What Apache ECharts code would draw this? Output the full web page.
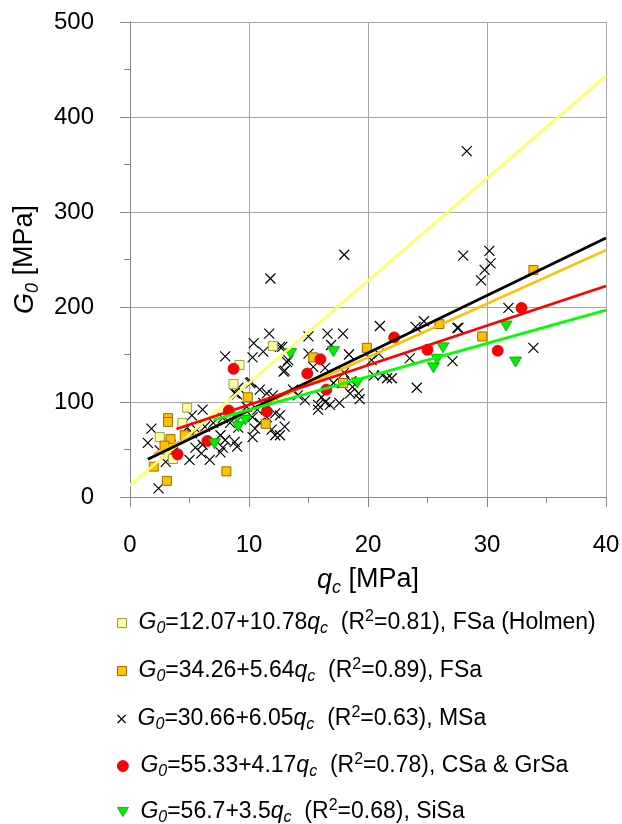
<!DOCTYPE html>
<html><head><meta charset="utf-8">
<script src="https://cdn.jsdelivr.net/npm/echarts@6/dist/echarts.min.js"></script>
<style>html,body{margin:0;padding:0;background:#fff}#c{width:622px;height:824px}</style>
</head><body><div id="c"></div>
<script>
// ---- data ----
const xTicks = [0, 10, 20, 30, 40];
const yTicks = [0, 100, 200, 300, 400, 500];
const seriesNames = ['FSa (Holmen)', 'FSa', 'MSa', 'CSa & GrSa', 'SiSa'];
const intercepts = [12.07, 34.26, 30.66, 55.33, 56.7];
const slopes = [10.78, 5.64, 6.05, 4.17, 3.5];
const rSquared = ['0.81', '0.89', '0.63', '0.78', '0.68'];
const fitStart = [0, 2, 1.5, 3.9, 7];
const fitEnd = [40, 40, 40, 40, 40];

const fsaHolmen = [[2.5,63],[3.0,50],[3.6,40],[4.4,78],[4.8,94],[3.3,57],[8.7,119],[9.2,139],[12.0,159]];
const fsa = [[3.2,83],[3.2,79],[3.4,61],[2.9,54],[4.6,65],[2.0,32],[3.1,17],[8.1,27],[9.9,105],[11.4,77],
  [15.4,147],[17.9,120],[19.9,157],[26.0,182],[29.6,169],[33.9,239]];
const msa = [[28.3,364],[28.0,254],[30.2,259],[30.3,246],[29.8,239],[29.5,228],[31.8,199],[33.9,157],[27.6,178],
  [27.1,143],[24.0,179],[24.7,185],[23.5,146],[21.0,180],[24.1,115],[18.0,255],[11.8,230],
  [15.0,169],[16.6,172],[17.9,172],[16.9,160],[12.6,158],[15.0,151],[18.4,150],[13.0,133],[13.2,142],[15.4,137],
  [16.4,136],[18.0,131],[20.3,144],[20.9,151],[27.5,178],[20.5,128],[21.2,128],[21.6,125],[22.0,125],[18.6,122],
  [18.7,116],[19.2,109],[19.3,103],[18.5,109],[17.1,120],[15.8,92],[15.8,97],[16.4,100],[16.8,97],[17.6,99],
  [16.1,105],[14.7,102],[13.7,113],[14.1,107],[12.6,86],[12.6,65],[13.0,74],
  [11.7,172],[10.4,162],[10.3,147],[11.2,153],[12.8,158],[13.3,144],[12.9,132],[10.2,121],[8.0,148],[9.0,108],
  [1.8,72],[1.5,57],[2.4,9],[3.0,37],[3.6,47],[5.0,39],[5.5,52],[6.0,46],[6.7,39],[5.6,71],[5.2,67],[6.3,74],
  [4.8,73],[6.1,55],[7.6,65],[8.0,60],[7.8,52],[8.8,58],[9.0,53],[10.3,63],[10.5,72],[10.9,78],[11.5,84],
  [10.3,84],[9.8,95],[10.7,92],[11.2,99],[11.9,71],[12.2,65],[8.8,109],[9.1,115],[10.1,120],[10.9,113],
  [11.5,109],[12.0,107],[11.5,94],[12.2,88],[7.0,78],[6.1,92],[5.2,86],[3.4,55],[7.8,83],[8.4,78],[7.6,47],
  [9.1,73],[2.5,49]];
const csaGrsa = [[4.0,45],[6.5,59],[8.3,91],[8.7,135],[11.5,90],[14.9,130],[16.0,145],[16.5,113],[22.2,168],
  [25.0,155],[30.9,154],[32.9,199]];
const sisa = [[7.1,56],[9.0,83],[9.1,74],[9.7,81],[13.5,151],[17.1,153],[19.1,120],[25.5,136],[25.8,145],
  [26.3,157],[31.6,180],[32.4,142]];

// ---- styling ----
const FONT = "'Liberation Sans', Arial, sans-serif";
const pointSets = [fsaHolmen, fsa, msa, csaGrsa, sisa];
const XPATH = 'path://M0,0L10,10M10,0L0,10';
const TRI = 'path://M0,0L12,0L6,10Z';
const marks = [
  {symbol: 'rect', size: 9, color: '#ffff99', border: '#9c9c5a', bw: 1, line: '#ffff66', lg: 9},
  {symbol: 'rect', size: 9, color: '#ffc000', border: '#996f00', bw: 1, line: '#ffc000', lg: 9},
  {symbol: XPATH, size: 10, color: 'transparent', border: '#000', bw: 1.2, line: '#000000', lg: 8},
  {symbol: 'circle', size: 11, color: '#ff0000', border: '#d00000', bw: 0.8, line: '#ff0000', lg: 11},
  {symbol: TRI, size: 12, color: '#00ee00', border: '#00a000', bw: 0.8, line: '#00ff00', lg: 11}
];
const legendTops = [604, 652, 700, 747, 793];

const rich = {
  g: {fontFamily: FONT, fontSize: 23, fontStyle: 'italic', color: '#000', lineHeight: 28},
  s: {fontFamily: FONT, fontSize: 16, fontStyle: 'italic', color: '#000', lineHeight: 13, verticalAlign: 'bottom'},
  t: {fontFamily: FONT, fontSize: 23, color: '#000', lineHeight: 28},
  p: {fontFamily: FONT, fontSize: 16, color: '#000', lineHeight: 12, verticalAlign: 'top'}
};

function legendText(name) {
  const i = seriesNames.indexOf(name);
  return '{g|G}{s|0}{t|=' + intercepts[i] + '+' + slopes[i] + '}{g|q}{s|c}{t|  (R}{p|2}{t|=' + rSquared[i] + '), ' + name + '}';
}

const series = [];
seriesNames.forEach((n, i) => {
  const m = marks[i];
  series.push({
    name: n, type: 'scatter', data: pointSets[i], symbol: m.symbol, symbolSize: m.size, symbolKeepAspect: true,
    itemStyle: {color: m.color, borderColor: m.border, borderWidth: m.bw, opacity: 1},
    z: 2 + (i === 2 ? 0 : 1), silent: true, animation: false
  });
});
seriesNames.forEach((n, i) => {
  const a = intercepts[i], b = slopes[i];
  series.push({
    name: 'fit ' + n, type: 'line', showSymbol: false, silent: true, animation: false, z: 4,
    data: [[fitStart[i], a + b * fitStart[i]], [fitEnd[i], a + b * fitEnd[i]]],
    lineStyle: {color: marks[i].line, width: 2.7}
  });
});

const legends = seriesNames.map((n, i) => ({
  data: [{name: n, icon: marks[i].symbol}],
  left: 112, top: legendTops[i], orient: 'horizontal', selectedMode: false,
  itemWidth: marks[i].lg, itemHeight: marks[i].lg,
  itemStyle: {color: marks[i].color, borderColor: marks[i].border, borderWidth: marks[i].bw},
  formatter: legendText,
  textStyle: {rich: rich, padding: [0, 0, 0, 7]}
}));

const axisName = {
  i: {fontFamily: FONT, fontSize: 27, fontStyle: 'italic', color: '#000', lineHeight: 34},
  s: {fontFamily: FONT, fontSize: 18, fontStyle: 'italic', color: '#000', lineHeight: 15, verticalAlign: 'bottom'},
  t: {fontFamily: FONT, fontSize: 27, color: '#000', lineHeight: 34}
};

const option = {
  backgroundColor: '#fff',
  animation: false,
  grid: {left: 130, right: 16, top: 22, bottom: 327, containLabel: false, outerBoundsMode: 'none'},
  legend: legends,
  xAxis: {
    type: 'value', min: xTicks[0], max: xTicks[xTicks.length - 1], interval: xTicks[1] - xTicks[0],
    name: '{i|q}{s|c}{t| [MPa]}', nameLocation: 'middle', nameGap: 66,
    nameTextStyle: {rich: axisName},
    axisLine: {show: true, lineStyle: {color: '#868686', width: 1}},
    axisTick: {show: true, length: 10, lineStyle: {color: '#868686'}},
    minorTick: {show: true, splitNumber: 2, length: 6, lineStyle: {color: '#868686'}},
    splitLine: {show: true, lineStyle: {color: '#a6a6a6', width: 1}},
    axisLabel: {fontFamily: FONT, fontSize: 24, color: '#000', margin: 36,
      formatter: v => xTicks.includes(v) ? String(v) : ''}
  },
  yAxis: {
    type: 'value', min: yTicks[0], max: yTicks[yTicks.length - 1], interval: yTicks[1] - yTicks[0],
    name: '{i|G}{s|0}{t| [MPa]}', nameLocation: 'middle', nameGap: 88, nameRotate: 90,
    nameTextStyle: {rich: axisName},
    axisLine: {show: true, lineStyle: {color: '#868686', width: 1}},
    axisTick: {show: true, length: 10, lineStyle: {color: '#868686'}},
    minorTick: {show: true, splitNumber: 2, length: 6, lineStyle: {color: '#868686'}},
    splitLine: {show: true, lineStyle: {color: '#a6a6a6', width: 1}},
    axisLabel: {fontFamily: FONT, fontSize: 24, color: '#000', margin: 36,
      formatter: v => yTicks.includes(v) ? String(v) : ''}
  },
  series: series
};
const chart = echarts.init(document.getElementById('c'));
chart.setOption(option);
</script></body></html>
